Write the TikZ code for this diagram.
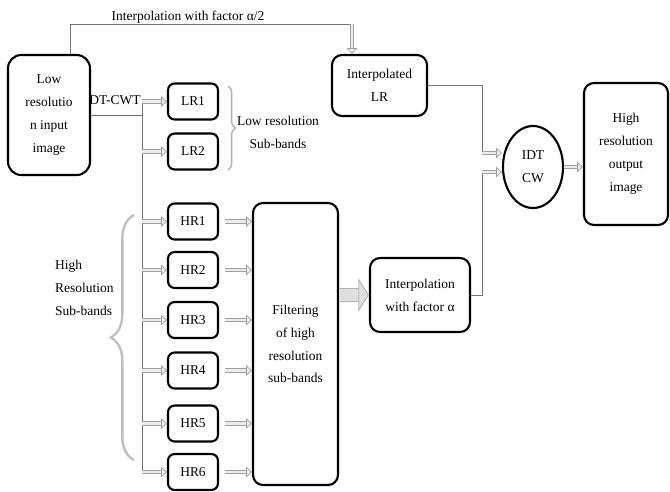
\documentclass[tikz,border=0pt]{standalone}
\usepackage{fontspec}
\setmainfont{Liberation Serif}
\usetikzlibrary{shapes.geometric,arrows.meta,decorations.pathreplacing}
\tikzset{
  blockbox/.style={draw, line width=1.8pt, rounded corners=0.3cm, align=center, inner sep=2pt},
  bandbox/.style={blockbox, minimum width=1.5cm, minimum height=1.08cm, rounded corners=0.2cm},
  wire/.style={draw=gray!90!black, line width=0.6pt},
  harrow/.style={draw=gray!75, double=gray!15, line width=0.6pt, double distance=2.4pt,
    -{Triangle[length=5pt, width=9pt, fill=gray!15]}},
  bigarrow/.style={draw=gray!60, double=gray!25, line width=0.8pt, double distance=0.34cm,
    -{Triangle[length=0.32cm, width=1cm, fill=gray!25]}},
  bandbrace/.style={decorate, draw=gray!60, line width=1.2pt}
}
\begin{document}
\begin{tikzpicture}[x=0.03cm, y=-0.03cm, font=\fontsize{11.5}{19.5}\selectfont]
\useasboundingbox (0,0) rectangle (670,491);
\node[blockbox, minimum width=2.46cm, minimum height=3.6cm, rounded corners=0.4cm] (inp) at (49,115) {Low\\resolutio\\n input\\image};
\node[blockbox, minimum width=2.85cm, minimum height=1.83cm] (ilr) at (379.5,85.5) {Interpolated\\LR};
\node[bandbox] (lr1) at (193,101.5) {LR1};
\node[bandbox] (lr2) at (193,151.5) {LR2};
\foreach \i/\y in {1/221.5,2/270,3/320,4/370.5,5/423.5,6/472}
  \node[bandbox] (hr\i) at (193,\y) {HR\i};
\node[blockbox, minimum width=2.55cm, minimum height=8.46cm] (filt) at (295.5,344) {Filtering\\of high\\resolution\\sub-bands};
\node[blockbox, minimum width=3cm, minimum height=2.22cm] (iala) at (420,295) {Interpolation\\with factor α};
\node[draw, ellipse, line width=1.8pt, minimum width=1.8cm, minimum height=2.46cm, align=center, inner sep=1pt] (idt) at (533,167) {IDT\\CW};
\node[blockbox, minimum width=2.52cm, minimum height=4.26cm] (out) at (626,154) {High\\resolution\\output\\image};
\node (alab) at (188,17) {Interpolation with factor α/2};
\node[inner sep=1pt] (dtcwt) at (115,100) {DT-CWT};
\node[align=center] (lrlab) at (278,132) {Low resolution\\Sub-bands};
\node[align=left, anchor=west] (hrlab) at (51,288) {High\\Resolution\\Sub-bands};
\coordinate (tl) at (70,24);
\coordinate (tr) at (352,24);
\coordinate (bus) at (142,100);
\coordinate (j1) at (482,153);
\coordinate (j2) at (482,172);
\draw[wire] (inp.north -| tl) -- (tl) -- (tr);
\draw[harrow] (tr) -- (tr |- ilr.north);
\draw[wire] (inp.east) -- (inp.east -| bus);
\draw[wire] (bus) -- (bus |- hr6);
\foreach \n in {lr1,lr2,hr1,hr2,hr3,hr4,hr5,hr6}
  \draw[harrow] (bus |- \n) -- (\n.west);
\foreach \n in {1,...,6}
  \draw[harrow, shorten <=0.18cm] (hr\n.east) -- (hr\n -| filt.west);
\draw[bigarrow] (filt.east |- iala) -- (iala.west);
\draw[wire] (ilr.east) -| (j1);
\draw[wire] (iala.east) -| (j2);
\draw[harrow] (j1) -- (j1 -| idt.west);
\draw[harrow] (j2) -- (j2 -| idt.west);
\draw[harrow] (idt.east) -- (out.west |- idt.east);
\draw[bandbrace, decoration={brace, amplitude=0.22cm}] (228,86) -- (228,170);
\draw[bandbrace, draw=gray!50, line width=2pt, decoration={brace, amplitude=0.7cm}] (134,460) -- (134,215);
\end{tikzpicture}
\end{document}
